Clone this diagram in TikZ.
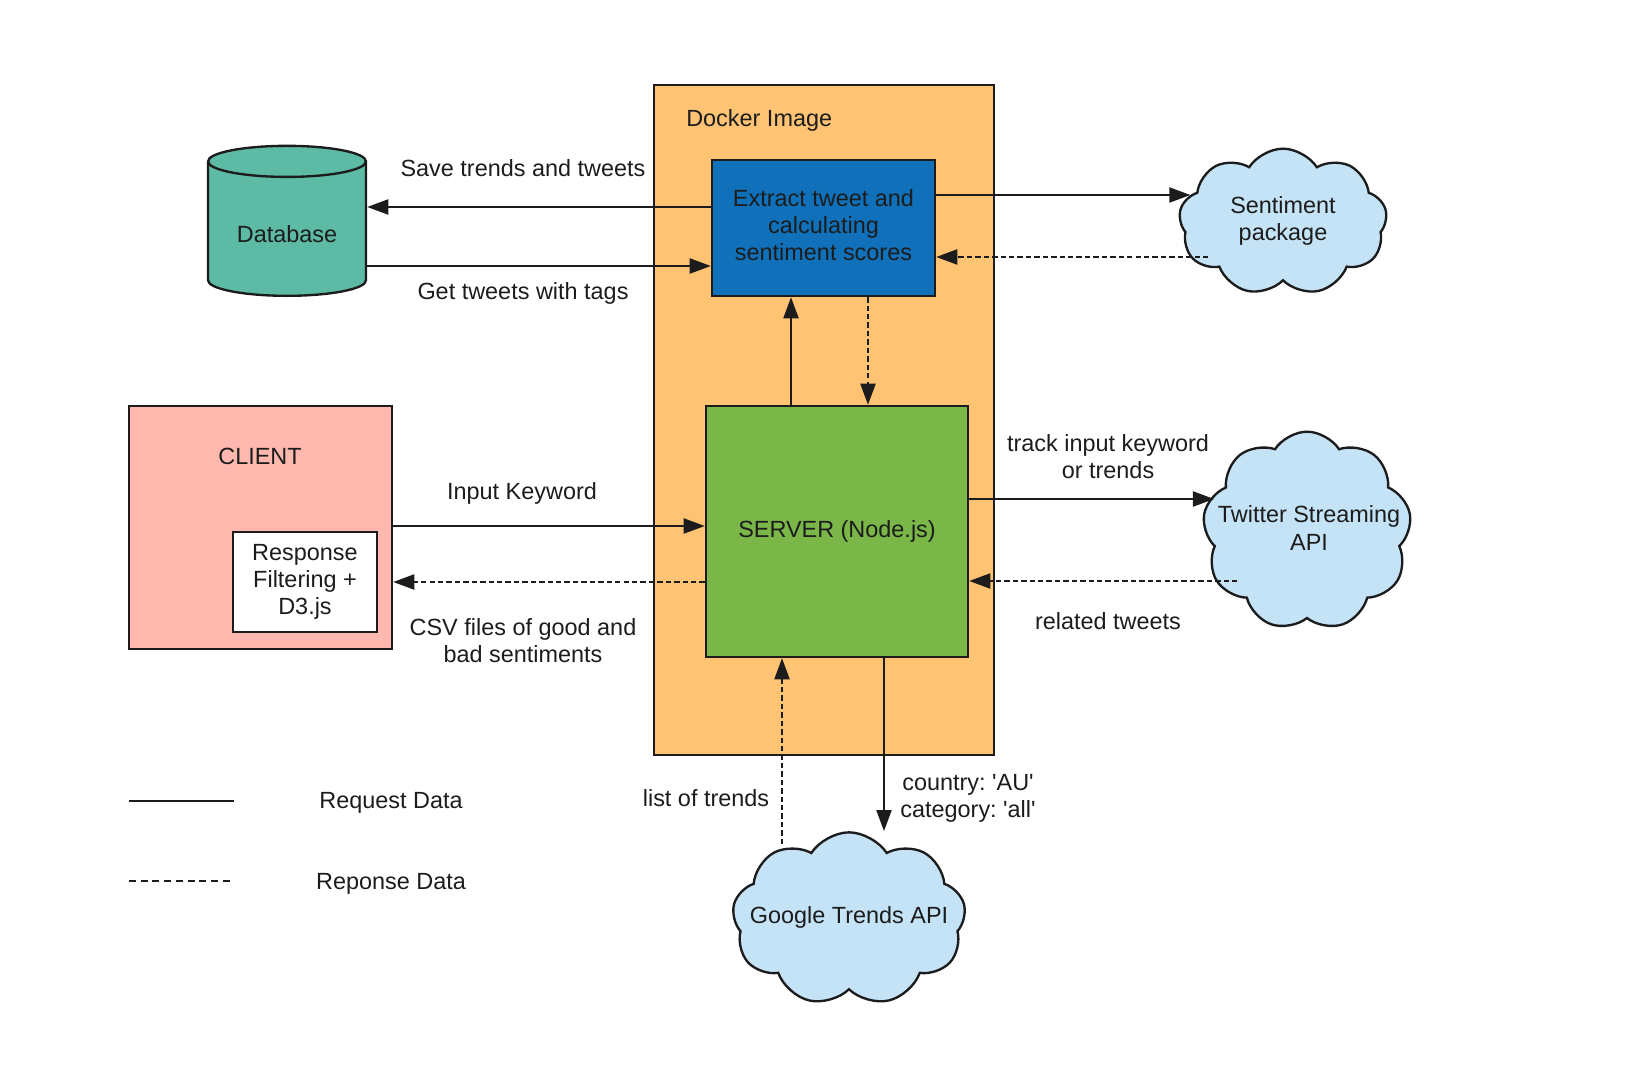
\documentclass[tikz,border=0pt]{standalone}
\usepackage{fontspec}
\setmainfont{Liberation Sans}
\usepackage{tikz}
\usetikzlibrary{positioning,arrows.meta,shapes.geometric,shapes.symbols}

\definecolor{dockerorange}{HTML}{FFC374}
\definecolor{extractblue}{HTML}{1071BA}
\definecolor{servergreen}{HTML}{7AB648}
\definecolor{dbteal}{HTML}{5DBAA4}
\definecolor{clientpink}{HTML}{FFB8AE}
\definecolor{cloudblue}{HTML}{C5E3F6}
\definecolor{ink}{HTML}{1C1C1C}

\begin{document}
\begin{tikzpicture}[x=0.015cm, y=-0.015cm, node distance=1.215cm,
        every node/.style={font=\fontsize{10}{11.6}\selectfont\frenchspacing, text=ink, align=center},
        box/.style={draw=ink, line width=1pt, inner sep=0pt},
        sky/.style={cloud, cloud puffs=9, cloud puff arc=115, cloud ignores aspect, draw=ink, line width=1pt, fill=cloudblue, inner sep=0pt},
        req/.style={draw=ink, line width=0.9pt, -{Triangle[length=9pt,width=6.4pt]}},
        resp/.style={req, dash pattern=on 2.3pt off 1.3pt},
        legend/.style={draw=ink, line width=1.1pt}]
    \useasboundingbox (0,0) rectangle (1640,1068);
    \node   (docker)   [box, fill=dockerorange, minimum width=5.1cm, minimum height=10.05cm] at (824,420) {};
    \node   (dockerlbl) [anchor=west] at (678,120) {Docker Image};
    \node   (extract)  [box, fill=extractblue, minimum width=3.345cm, minimum height=2.04cm, text depth=2.6pt] at (823.5,228) {Extract tweet and\\calculating\\sentiment scores};
    \node   (server)   [box, fill=servergreen, minimum width=3.93cm, minimum height=3.765cm] at (837,531.5) {SERVER (Node.js)};
    \node   (db)       [cylinder, shape border rotate=90, aspect=0.31, draw=ink, line width=1pt, fill=dbteal, minimum width=2.37cm, minimum height=2.25cm, inner sep=0pt, text height=11.7pt, text depth=0pt, anchor=south] at (287,297) {Database};
    \node   (client)   [box, fill=clientpink, minimum width=3.945cm, minimum height=3.645cm] at (260.5,527.5) {};
    \node   (clientlbl) at (260,456) {CLIENT};
    \node   (response) [box, fill=white, minimum width=2.16cm, minimum height=1.5cm] at (305,582) {Response\\Filtering +\\D3.js};
    \node   (sentiment) [sky, minimum width=3.12cm, minimum height=2.2cm] at (1283,222) {};
    \node   (twitter)  [sky, minimum width=3.13cm, minimum height=2.98cm] at (1307,531) {};
    \node   (google)   [sky, minimum width=3.5cm, minimum height=2.6cm] at (849,919) {};
    \node   (sentimentlbl) at (1283,221) {Sentiment\\package};
    \node   (twitterlbl) at (1309,528) {Twitter Streaming\\API};
    \node   (googlelbl) at (849,917) {Google Trends API};
    \node   (savelbl)  at (523,168) {Save trends and tweets};
    \node   (getlbl)   at (523,293) {Get tweets with tags};
    \node   (inputlbl) at (522,493) {Input Keyword};
    \node   (csvlbl)   at (523,641) {CSV files of good and\\bad sentiments};
    \node   (tracklbl) at (1108,457) {track input keyword\\or trends};
    \node   (relatedlbl) at (1108,621) {related tweets};
    \node   (listlbl)  at (706,798) {list of trends};
    \node   (countrylbl) at (968,798) {country: \textquotesingle AU\textquotesingle\\category: \textquotesingle all\textquotesingle};
    \node   (reqlbl)   at (391,803) {Request Data};
    \node   (resplbl)  [below of = reqlbl] {Reponse Data};
    \coordinate (reqa)  at (129,801);
    \coordinate (reqb)  at (234,801);
    \coordinate (respa) at (129,881);
    \coordinate (respb) at (234,881);
    \draw[req]  (extract.west |- 0,207) -- (db.east |- 0,207);
    \draw[req]  (db.east |- 0,266) -- (extract.west |- 0,266);
    \draw[req, shorten >=-0.17cm]  (extract.east |- 0,195) -- (sentiment.west |- 0,195);
    \draw[resp, shorten <=-0.44cm] (sentiment.west |- 0,257) -- (extract.east |- 0,257);
    \draw[req]  (server.north -| 791,0) -- (extract.south -| 791,0);
    \draw[resp] (extract.south -| 868,0) -- (server.north -| 868,0);
    \draw[req]  (client.east |- 0,526) -- (server.west |- 0,526);
    \draw[resp] (server.west |- 0,582) -- (client.east |- 0,582);
    \draw[req, shorten >=-0.15cm]  (server.east |- 0,499) -- (twitter.west |- 0,499);
    \draw[resp, shorten <=-0.5cm] (twitter.west |- 0,581) -- (server.east |- 0,581);
    \draw[resp, shorten <=-0.195cm] (google.north -| 782,0) -- (server.south -| 782,0);
    \draw[req]  (server.south -| 884,0) -- (google.north -| 884,0);
    \draw[legend] (reqa) -- (reqb);
    \draw[legend, dash pattern=on 3pt off 2pt] (respa) -- (respb);
\end{tikzpicture}
\end{document}
